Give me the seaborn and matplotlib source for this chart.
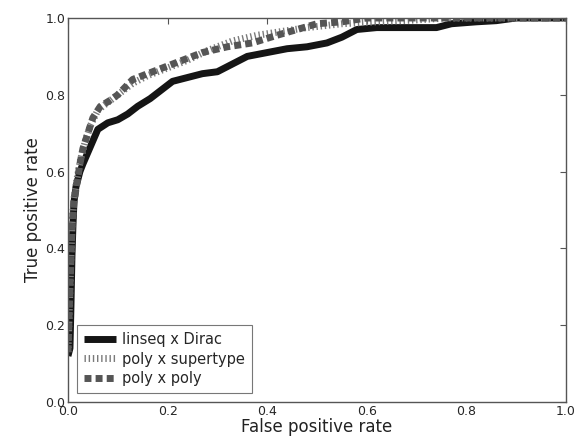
import matplotlib
matplotlib.use('Agg')
import matplotlib.pyplot as plt
import seaborn as sns

# ROC curves
fpr_dirac = [0, 0.004, 0.006, 0.008, 0.010, 0.012, 0.016, 0.020, 0.024, 0.03, 0.04, 0.05, 0.06,
             0.08, 0.10, 0.12, 0.14, 0.165, 0.19, 0.21, 0.24, 0.27, 0.30, 0.33, 0.36, 0.40, 0.44,
             0.48, 0.52, 0.55, 0.58, 0.62, 0.70, 0.74, 0.77, 0.82, 0.86, 0.90, 1.0]
tpr_dirac = [0.12, 0.14, 0.25, 0.38, 0.46, 0.52, 0.56, 0.58, 0.60, 0.62, 0.65, 0.68, 0.71,
             0.727, 0.735, 0.75, 0.77, 0.79, 0.815, 0.835, 0.845, 0.855, 0.86, 0.88, 0.90, 0.91, 0.92,
             0.925, 0.935, 0.95, 0.97, 0.975, 0.975, 0.975, 0.985, 0.99, 0.993, 1.0, 1.0]

fpr_super = [0, 0.004, 0.008, 0.012, 0.018, 0.025, 0.035, 0.045, 0.06, 0.08, 0.10, 0.13, 0.16,
             0.20, 0.24, 0.28, 0.33, 0.38, 0.43, 0.48, 0.55, 0.62, 0.70, 0.76, 0.85, 1.0]
tpr_super = [0.13, 0.30, 0.46, 0.53, 0.58, 0.63, 0.68, 0.72, 0.76, 0.78, 0.80, 0.83, 0.85,
             0.87, 0.89, 0.915, 0.94, 0.955, 0.965, 0.975, 0.985, 0.99, 0.995, 1.0, 1.0, 1.0]

fpr_poly = [0, 0.004, 0.008, 0.012, 0.018, 0.024, 0.03, 0.04, 0.05, 0.065, 0.084, 0.10, 0.13,
            0.16, 0.20, 0.23, 0.27, 0.32, 0.37, 0.42, 0.46, 0.50, 0.55, 0.60, 0.70, 0.80, 1.0]
tpr_poly = [0.13, 0.30, 0.45, 0.52, 0.57, 0.62, 0.66, 0.70, 0.74, 0.77, 0.785, 0.80, 0.84,
            0.855, 0.875, 0.89, 0.91, 0.925, 0.935, 0.955, 0.97, 0.985, 0.99, 1.0, 1.0, 1.0, 1.0]

labels = ['linseq x Dirac', 'poly x supertype', 'poly x poly']
ticks = [0.0, 0.2, 0.4, 0.6, 0.8, 1.0]

sns.set_style('white')
plt.rcParams['font.family'] = ['DejaVu Sans']

fig = plt.figure(figsize=(5.79, 4.42), dpi=100)
ax = fig.add_axes([0.1174, 0.0905, 0.8601, 0.8688])

sns.lineplot(x=fpr_dirac, y=tpr_dirac, ax=ax, sort=False, estimator=None,
             color='#151515', lw=5, label=labels[0], solid_capstyle='butt')
sns.lineplot(x=fpr_super, y=tpr_super, ax=ax, sort=False, estimator=None,
             color='#7a7a7a', lw=5, label=labels[1])
sns.lineplot(x=fpr_poly, y=tpr_poly, ax=ax, sort=False, estimator=None,
             color='#555555', lw=5, label=labels[2])

lines = ax.get_lines()
lines[1].set_dashes((0.2, 0.4))
lines[1].set_dash_capstyle('butt')
lines[2].set_dashes((1.0, 0.6))
lines[2].set_dash_capstyle('butt')

ax.set_xlim(0, 1)
ax.set_ylim(0, 1)
ax.set_xticks(ticks)
ax.set_yticks(ticks)
ax.set_xticklabels([f'{t:.1f}' for t in ticks])
ax.set_yticklabels([f'{t:.1f}' for t in ticks])
ax.tick_params(direction='in', length=4, width=0.8, color='#555555', labelsize=9,
               top=True, right=True, pad=2)
for s in ax.spines.values():
    s.set_color('#555555')
    s.set_linewidth(1.0)

ax.set_xlabel('False positive rate', fontsize=12, color='#222222', labelpad=0)
ax.set_ylabel('True positive rate', fontsize=12, color='#222222', labelpad=2)

leg = ax.legend(loc='lower left', fontsize=10.5, handlelength=2.2, borderaxespad=0.6,
                frameon=True, fancybox=False, labelspacing=0.3, handletextpad=0.4,
                borderpad=0.5)
leg.get_frame().set_edgecolor('#555555')
leg.get_frame().set_linewidth(0.8)

fig.savefig('out.png', dpi=100)
